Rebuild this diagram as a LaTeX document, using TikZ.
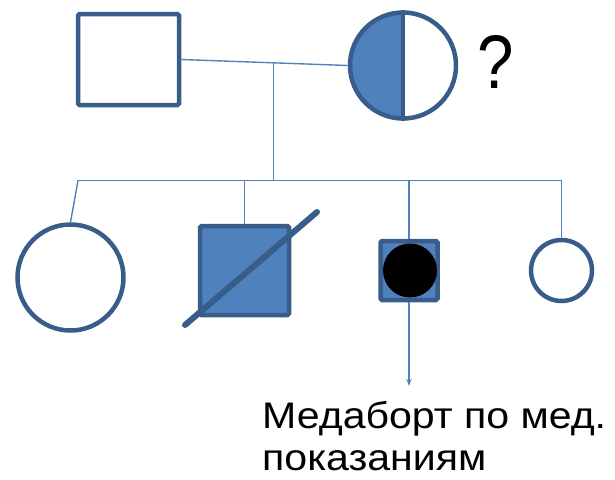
\documentclass[tikz,border=0pt]{standalone}
\usepackage{fontspec}
\setmainfont{Liberation Sans}
\newfontfamily\widefont[FakeStretch=1.11]{Liberation Sans}
\newfontfamily\narrowfont[FakeStretch=0.86]{Liberation Sans}
\usetikzlibrary{calc,arrows.meta}
\definecolor{fillblue}{HTML}{4F81BD}
\definecolor{edgeblue}{HTML}{385D8A}
\tikzset{
  sym/.style={draw=edgeblue, line width=4.5pt, inner sep=0pt, rounded corners=1.5pt},
  sq/.style={sym, rectangle},
  ci/.style={sym, circle},
  link/.style={draw=fillblue, line width=1.4pt},
}
\begin{document}
\begin{tikzpicture}[x=1pt,y=-1pt]
\useasboundingbox (0,0) rectangle (615,479);
% parents
\node[sq, fill=white, minimum width=101pt, minimum height=91pt] (father) at (128.5,59.5) {};
\node[ci, fill=white, minimum size=106pt,
  path picture={\fill[fillblue] (path picture bounding box.north west) rectangle (path picture bounding box.south);}] (mother) at (403,65.5) {};
\draw[edgeblue, line width=4.5pt] (mother.north) -- (mother.south);
\node[anchor=base west, font=\narrowfont\fontsize{76}{80}\selectfont, inner sep=0pt] (q) at (477,88) {?};
% children
\node[ci, fill=white, minimum size=106pt] (c1) at (70.5,277.5) {};
\node[sq, fill=fillblue, minimum size=89pt] (c2) at (244.5,270.5) {};
\draw[edgeblue, line width=6pt, line cap=round] ($(c2.center)+(-59.5,54.5)$) -- ($(c2.center)+(72.5,-58.5)$);
\node[sq, fill=fillblue, minimum width=57pt, minimum height=59pt] (c3) at (409,270.5) {};
\node[circle, fill=black, inner sep=0pt, minimum size=54pt] (c3dot) at ($(c3.center)+(1,0)$) {};
\node[ci, fill=white, minimum size=61pt] (c4) at (561.5,270.5) {};
% connectors
\coordinate (m) at ($(father.east)!0.553!(mother.west)$);
\coordinate (s1) at (78,180.5);
\coordinate (s4) at (c4.north |- s1);
\draw[link] (father.east) -- (mother.west);
\draw[link] (m) -- (m |- s1);
\draw[link] (s1) -- (s4);
\draw[link] (s1) -- (c1.north);
\draw[link] (c2.north |- s1) -- (c2.north);
\draw[link] (c3.north |- s1) -- (c3.north);
\draw[link] (s4) -- (c4.north);
\coordinate (ae) at (c3.south |- 0,386);
\draw[link, line width=1.2pt, -{Stealth[length=7pt,width=5pt]}] (c3.south) -- (ae);
\node[anchor=north west, align=left, inner sep=0pt, font=\widefont\fontsize{37}{42.5}\selectfont] (txt) at (262,401) {Медаборт по мед.\\показаниям};
\end{tikzpicture}
\end{document}
